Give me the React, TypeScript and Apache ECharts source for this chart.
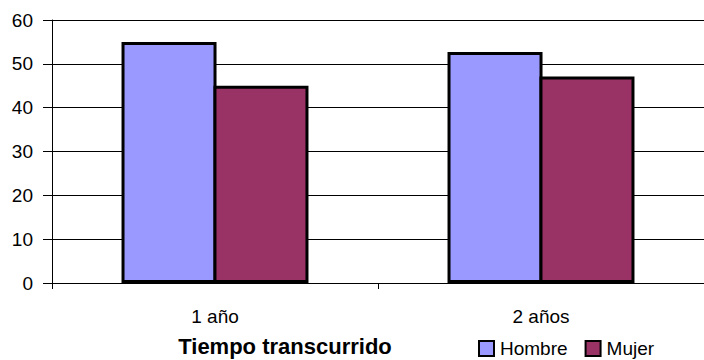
import React, { useEffect, useRef } from "react";
import * as echarts from "echarts";

const categories = ["1 año", "2 años"];
const hombre = [55, 52.7];
const mujer = [45, 47.1];
const yTicks = { min: 0, max: 60, interval: 10 };
const xTitle = "Tiempo transcurrido";
const seriesNames = ["Hombre", "Mujer"];

export default function App() {
  const ref = useRef<HTMLDivElement>(null);
  useEffect(() => {
    const chart = echarts.init(ref.current!, null, { renderer: "svg" });
    const font = "'Liberation Sans', Arial, sans-serif";
    chart.setOption({
      animation: false,
      backgroundColor: "#ffffff",
      textStyle: { fontFamily: font },
      grid: { left: 52, right: -4, top: 20, bottom: 77, containLabel: false },
      xAxis: {
        type: "category",
        data: categories,
        axisLine: { show: true, lineStyle: { color: "#000", width: 1 } },
        axisTick: { show: true, length: 6, alignWithLabel: false, lineStyle: { color: "#000" } },
        axisLabel: { color: "#000", fontSize: 19, margin: 24, fontFamily: font },
        splitLine: { show: false },
      },
      yAxis: {
        type: "value",
        min: yTicks.min,
        max: yTicks.max,
        interval: yTicks.interval,
        axisLine: { show: true, lineStyle: { color: "#000", width: 1 } },
        axisTick: { show: true, length: 9, lineStyle: { color: "#000" } },
        axisLabel: { color: "#000", fontSize: 19, margin: 19, fontFamily: font },
        splitLine: { show: true, lineStyle: { color: "#000", width: 1 } },
      },
      legend: {
        data: seriesNames,
        left: 478,
        top: 339,
        padding: 0,
        itemWidth: 15,
        itemHeight: 15,
        itemGap: 17,
        textStyle: { color: "#000", fontSize: 19, fontFamily: font, padding: [0, 0, 0, 1] },
        icon: "rect",
      },
      graphic: [
        {
          type: "text",
          x: 285,
          y: 346,
          style: {
            text: xTitle,
            fill: "#000",
            font: `bold 22px ${font}`,
            textAlign: "center",
            textVerticalAlign: "middle",
          },
        },
      ],
      series: [
        {
          name: seriesNames[0],
          type: "bar",
          data: hombre,
          barWidth: 95,
          barGap: "-3.2%",
          itemStyle: { color: "#9999FF", borderColor: "#000", borderWidth: 3 },
        },
        {
          name: seriesNames[1],
          type: "bar",
          data: mujer,
          barWidth: 95,
          barGap: "-3.2%",
          itemStyle: { color: "#993366", borderColor: "#000", borderWidth: 3 },
        },
      ],
    });
    return () => chart.dispose();
  }, []);
  return <div ref={ref} style={{ width: 704, height: 360, position: "absolute", left: 0, top: 0 }} />;
}
